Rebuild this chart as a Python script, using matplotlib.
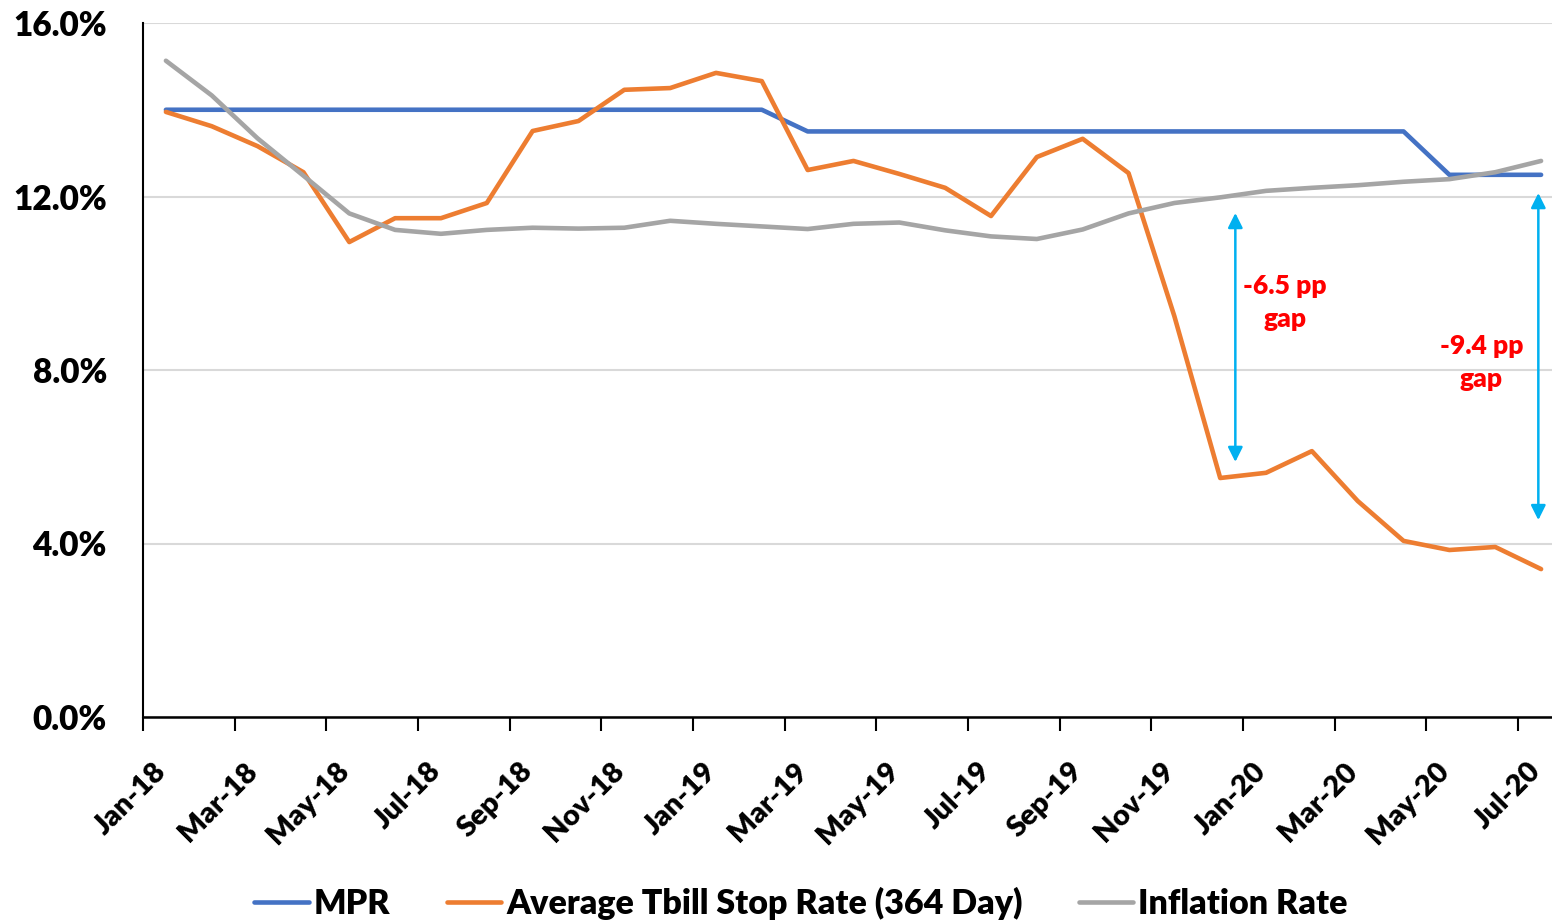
import matplotlib
matplotlib.use("Agg")
import matplotlib.pyplot as plt
import matplotlib.transforms as mtransforms
import numpy as np

plt.rcParams['font.family'] = ['Lato', 'DejaVu Sans']
plt.rcParams['font.weight'] = 'heavy'

months = ['Jan-18', 'Feb-18', 'Mar-18', 'Apr-18', 'May-18', 'Jun-18', 'Jul-18', 'Aug-18',
          'Sep-18', 'Oct-18', 'Nov-18', 'Dec-18', 'Jan-19', 'Feb-19', 'Mar-19', 'Apr-19',
          'May-19', 'Jun-19', 'Jul-19', 'Aug-19', 'Sep-19', 'Oct-19', 'Nov-19', 'Dec-19',
          'Jan-20', 'Feb-20', 'Mar-20', 'Apr-20', 'May-20', 'Jun-20', 'Jul-20']

mpr = [14.0] * 14 + [13.5] * 14 + [12.5] * 3
tbill = [13.95, 13.62, 13.16, 12.56, 10.95, 11.50, 11.50, 11.85, 13.51, 13.74, 14.46,
         14.50, 14.85, 14.66, 12.61, 12.82, 12.52, 12.20, 11.55, 12.91, 13.33, 12.54,
         9.24, 5.51, 5.63, 6.13, 4.98, 4.06, 3.85, 3.92, 3.41]
inflation = [15.13, 14.33, 13.34, 12.48, 11.61, 11.23, 11.14, 11.23, 11.28, 11.26, 11.28,
             11.44, 11.37, 11.31, 11.25, 11.37, 11.40, 11.22, 11.08, 11.02, 11.24, 11.61,
             11.85, 11.98, 12.13, 12.20, 12.26, 12.34, 12.40, 12.56, 12.82]

# gap annotations: (x position, arrow top, arrow bottom, text x, text y, label)
gaps = [(23.33, 11.62, 5.88, 24.42, 9.55, '-6.5 pp\ngap'),
        (29.94, 12.08, 4.54, 28.7, 8.17, '-9.4 pp\ngap')]

x = np.arange(len(months))

fig = plt.figure(figsize=(15.52, 9.23), dpi=100)
ax = fig.add_axes([143 / 1552, 1 - 717 / 923, (1564 - 143) / 1552, (717 - 23) / 923])

ax.plot(x, mpr, color='#4472C4', lw=3.3, label='MPR', solid_capstyle='round')
ax.plot(x, tbill, color='#ED7D31', lw=3.3, label='Average Tbill Stop Rate (364 Day)',
        solid_capstyle='round')
ax.plot(x, inflation, color='#A5A5A5', lw=3.3, label='Inflation Rate', solid_capstyle='round')

for gx, top, bottom, tx, ty, label in gaps:
    ax.annotate('', xy=(gx, top), xytext=(gx, bottom),
                arrowprops=dict(arrowstyle='<|-|>', color='#00B0F0', lw=1.8,
                                mutation_scale=22, shrinkA=0, shrinkB=0))
    ax.text(tx, ty, label, color='#FF0000', fontsize=19, fontweight='heavy',
            ha='center', va='center', linespacing=1.45)

ax.set_xlim(-0.5, 30.5)
ax.set_ylim(0, 16)
ax.set_yticks([0, 4, 8, 12, 16])
ax.set_yticklabels(['{:.1f}%'.format(v) for v in [0, 4, 8, 12, 16]], fontsize=24,
                   fontweight='heavy')
ax.tick_params(axis='y', length=0, pad=26)
ax.grid(axis='y', color='#D9D9D9', lw=1.5)
ax.set_axisbelow(True)

# category boundaries carry the tick marks, labels sit on every other month
ax.set_xticks(np.arange(-0.5, 30, 2))
ax.set_xticklabels([])
ax.tick_params(axis='x', which='major', length=10, width=1.5, direction='out', color='black')
ax.set_xticks(x[::2], minor=True)
ax.set_xticklabels(months[::2], minor=True, rotation=45, ha='right', va='center',
                   rotation_mode='anchor', fontsize=21, fontweight='heavy')
ax.tick_params(axis='x', which='minor', length=0, pad=36)
shift = mtransforms.ScaledTranslation(-4 / 100, 0, fig.dpi_scale_trans)
for lbl in ax.get_xticklabels(minor=True):
    lbl.set_transform(lbl.get_transform() + shift)

for side in ['top', 'right']:
    ax.spines[side].set_visible(False)
ax.spines['left'].set_linewidth(1.5)
ax.spines['bottom'].set_linewidth(1.8)

fig.legend(loc='center', bbox_to_anchor=(801 / 1552, 1 - 903 / 923), ncol=3, frameon=False,
           prop={'size': 24.5, 'weight': 'heavy'}, handlelength=1.6, handletextpad=0.15,
           columnspacing=1.65)

fig.savefig('out.png', dpi=100)
